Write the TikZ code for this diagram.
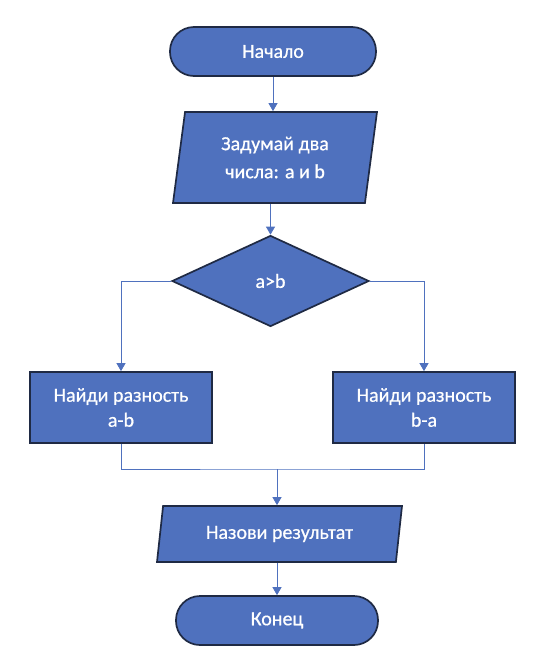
\documentclass[tikz,border=0pt]{standalone}
\usepackage{fontspec}
\setmainfont{Carlito}
\usetikzlibrary{shapes.geometric, arrows.meta}

\definecolor{boxblue}{HTML}{4F71BE}
\definecolor{boxedge}{HTML}{1F2A44}

\tikzset{
    block/.style={draw=boxedge, line width=1.7pt, fill=boxblue, text=white, font=\fontsize{20}{25}\selectfont\addfontfeatures{FakeBold=0.6}, align=center},
    terminal/.style={block, rectangle, rounded corners=24pt, minimum width=206pt, minimum height=49pt},
    io/.style={block, trapezium, trapezium left angle=76, trapezium right angle=104, trapezium stretches body, inner xsep=0pt},
    process/.style={block, rectangle, minimum width=182pt, minimum height=71pt},
    decision/.style={block, diamond, minimum width=197pt, minimum height=91pt},
    flow/.style={draw=boxblue, line width=0.8pt, -{Triangle[width=9pt, length=8pt]}},
    link/.style={draw=boxblue, line width=0.8pt},
}

\begin{document}
\begin{tikzpicture}[x=1pt, y=-1pt]
    \useasboundingbox (0, 0) rectangle (548, 662);

    % Blocks
    \node[terminal] (start) at (273, 51.5) {Начало};
    \node[io, minimum width=204pt, minimum height=91pt] (input) at (275, 157.5) {Задумай два\\[3pt]числа: a и b};
    \node[decision] (cmp) at (270.5, 281) {a>b};
    \node[process] (diffab) at (121, 407.5) {Найди разность\\a-b};
    \node[process] (diffba) at (424, 407.5) {Найди разность\\b-a};
    \coordinate (join) at (277, 469);
    \node[io, trapezium left angle=75, trapezium right angle=105, minimum width=245pt, minimum height=56pt] (output) at (279.5, 534) {Назови результат};
    \node[terminal, minimum width=202pt] (stop) at (277, 620.5) {Конец};

    % Connectors
    \draw[flow] (start.south) -- (start.south |- input.north);
    \draw[flow] (cmp.north |- input.south) -- (cmp.north);
    \draw[flow] (cmp.west) -| (diffab.north);
    \draw[flow] (cmp.east) -| (diffba.north);
    \draw[link] (diffab.south) |- (join) -| (diffba.south);
    \draw[flow] (join) -- (join |- output.north);
    \draw[flow] (join |- output.south) -- (stop.north);
\end{tikzpicture}
\end{document}
